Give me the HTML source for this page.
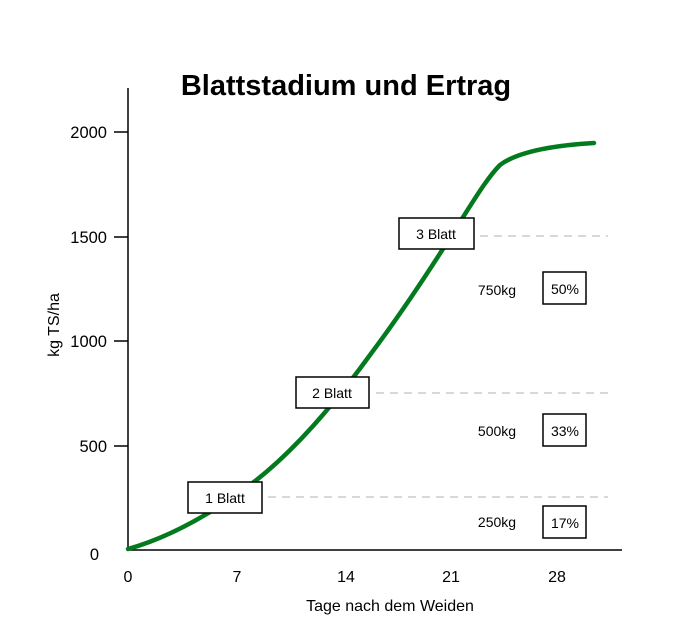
<!DOCTYPE html>
<html><head><style>body{margin:0;background:#fff}</style></head><body>
<svg width="673" height="636" viewBox="0 0 673 636" xmlns="http://www.w3.org/2000/svg" font-family="Liberation Sans, sans-serif">
<text x="346" y="95" font-size="29" font-weight="bold" text-anchor="middle" letter-spacing="0">Blattstadium und Ertrag</text>
<g stroke="#ccc" stroke-width="1.5" stroke-dasharray="8,6">
<line x1="480" y1="236" x2="608" y2="236"/>
<line x1="376" y1="393" x2="608" y2="393"/>
<line x1="268" y1="497" x2="608" y2="497"/>
</g>
<g stroke="#000" stroke-width="1.5">
<line x1="128" y1="88" x2="128" y2="551"/>
<line x1="127" y1="550" x2="622" y2="550"/>
<line x1="114" y1="132" x2="128" y2="132"/>
<line x1="114" y1="237" x2="128" y2="237"/>
<line x1="114" y1="341" x2="128" y2="341"/>
<line x1="114" y1="446" x2="128" y2="446"/>
</g>
<g font-size="16.5" text-anchor="end">
<text x="107" y="138">2000</text><text x="107" y="243">1500</text><text x="107" y="347">1000</text><text x="107" y="452">500</text><text x="99" y="560">0</text>
</g>
<g font-size="16" text-anchor="middle">
<text x="128" y="582">0</text><text x="237" y="582">7</text><text x="346" y="582">14</text><text x="451" y="582">21</text><text x="557" y="582">28</text>
<text x="390" y="611">Tage nach dem Weiden</text>
<text transform="translate(59,325) rotate(-90)">kg TS/ha</text>
</g>
<path d="M128,549 C160,540 200,522 250,485 C290,455 330,410 370,355 C400,315 430,270 460,222 C480,190 490,175 500,165 C520,150 560,145 594,143" fill="none" stroke="#047a1e" stroke-width="4.5" stroke-linecap="round"/>
<g fill="#fff" stroke="#000" stroke-width="1.5">
<rect x="188" y="482" width="74" height="31"/>
<rect x="296" y="377" width="73" height="31"/>
<rect x="399" y="218" width="75" height="31"/>
<rect x="543" y="272" width="43" height="32"/>
<rect x="543" y="414" width="43" height="32"/>
<rect x="543" y="506" width="43" height="32"/>
</g>
<g font-size="14" text-anchor="middle">
<text x="225" y="503">1 Blatt</text><text x="332" y="398">2 Blatt</text><text x="436" y="239">3 Blatt</text>
<text x="565" y="294">50%</text><text x="565" y="436">33%</text><text x="565" y="528">17%</text>
<text x="497" y="295">750kg</text><text x="497" y="436">500kg</text><text x="497" y="527">250kg</text>
</g>
</svg>
</body></html>
